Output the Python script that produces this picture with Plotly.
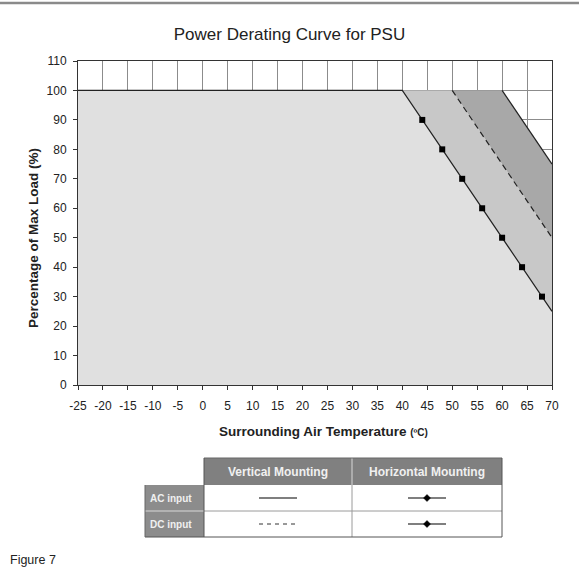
import plotly.graph_objects as go

# ---- data ----
ac_vert_temp = [-25, 40, 70]
ac_vert_load = [100, 100, 25]
dc_vert_temp = [50, 70]
dc_vert_load = [100, 50]
upper_temp = [60, 70]
upper_load = [100, 75]
marker_temp = [44, 48, 52, 56, 60, 64, 68]
marker_load = [90, 80, 70, 60, 50, 40, 30]
x_ticks = list(range(-25, 71, 5))
x_tick_labels = [str(v) for v in x_ticks]  # plain hyphen minus as in the original
y_ticks = list(range(0, 111, 10))
row_labels = ["AC input", "DC input"]
col_labels = ["Vertical Mounting", "Horizontal Mounting"]

W, H = 579, 578
FONT = "Arial, Liberation Sans, sans-serif"
LIGHT, MED, DARK = "#e0e0e0", "#c8c8c8", "#a8a8a8"

fig = go.Figure()

fig.add_trace(go.Scatter(
    x=[ac_vert_temp[0]] + ac_vert_temp + [ac_vert_temp[-1]],
    y=[0] + ac_vert_load + [0],
    fill="toself", fillcolor=LIGHT, mode="lines",
    line=dict(color="rgba(0,0,0,0)", width=0), hoverinfo="skip", showlegend=False))
fig.add_trace(go.Scatter(
    x=ac_vert_temp[1:] + dc_vert_temp[::-1],
    y=ac_vert_load[1:] + dc_vert_load[::-1],
    fill="toself", fillcolor=MED, mode="lines",
    line=dict(color="rgba(0,0,0,0)", width=0), hoverinfo="skip", showlegend=False))
fig.add_trace(go.Scatter(
    x=dc_vert_temp + upper_temp[::-1],
    y=dc_vert_load + upper_load[::-1],
    fill="toself", fillcolor=DARK, mode="lines",
    line=dict(color="rgba(0,0,0,0)", width=0), hoverinfo="skip", showlegend=False))

fig.add_trace(go.Scatter(x=ac_vert_temp, y=ac_vert_load, mode="lines",
                         line=dict(color="#222222", width=1.2), showlegend=False))
fig.add_trace(go.Scatter(x=dc_vert_temp, y=dc_vert_load, mode="lines",
                         line=dict(color="#222222", width=1.2, dash="6px,4px"), showlegend=False))
fig.add_trace(go.Scatter(x=upper_temp, y=upper_load, mode="lines",
                         line=dict(color="#222222", width=1.2), showlegend=False))
fig.add_trace(go.Scatter(x=marker_temp, y=marker_load, mode="markers",
                         marker=dict(symbol="square", size=6, color="black"), showlegend=False))

L, R, T, B = 78, 552, 61, 385

fig.update_layout(
    width=W, height=H,
    margin=dict(l=0, r=0, t=0, b=0, autoexpand=False),
    paper_bgcolor="white", plot_bgcolor="white",
    font=dict(family=FONT, size=12, color="#222222"),
    title=dict(text="Power Derating Curve for PSU", x=0.5, xanchor="center",
               y=1 - 34 / H, yanchor="middle",
               font=dict(family=FONT, size=17, color="#222222")),
    xaxis=dict(domain=[L / W, R / W], range=[-25, 70], tickvals=x_ticks, ticktext=x_tick_labels,
               showgrid=True, gridcolor="#8c8c8c", gridwidth=1, automargin=False,
               showline=True, linecolor="#333333", linewidth=1, mirror=True,
               ticks="outside", ticklen=4, tickcolor="#333333", ticklabelstandoff=6,
               zeroline=False, tickfont=dict(size=12)),
    yaxis=dict(domain=[1 - B / H, 1 - T / H], range=[0, 110], tickvals=y_ticks,
               showgrid=True, gridcolor="#8c8c8c", gridwidth=1, automargin=False,
               showline=True, linecolor="#333333", linewidth=1, mirror=True,
               ticks="outside", ticklen=4, tickcolor="#333333", ticklabelstandoff=4,
               zeroline=False, tickfont=dict(size=12)),
)

shapes = []
shapes.append(dict(type="line", xref="paper", yref="paper", x0=0, x1=1,
                   y0=1 - 3 / H, y1=1 - 3 / H, line=dict(color="#8a8a8a", width=2.5)))

tx0, tx1, tx2, tx3 = 145, 204, 352, 502
ty0, ty1, ty2, ty3 = 458, 485, 511, 537
HDR = "#808080"
LAB = "#8c8c8c"
def rect(x0, y0, x1, y1, fill, lc="rgba(0,0,0,0)", lw=0):
    return dict(type="rect", xref="paper", yref="paper",
                x0=x0 / W, x1=x1 / W, y0=1 - y0 / H, y1=1 - y1 / H,
                fillcolor=fill, line=dict(color=lc, width=lw), layer="above")
def line(x0, y0, x1, y1, color, width=1, dash="solid"):
    return dict(type="line", xref="paper", yref="paper",
                x0=x0 / W, x1=x1 / W, y0=1 - y0 / H, y1=1 - y1 / H,
                line=dict(color=color, width=width, dash=dash), layer="above")

shapes.append(rect(tx1, ty0, tx3, ty1, HDR))
shapes.append(rect(tx0, ty1, tx1, ty3, LAB))
shapes.append(rect(tx1, ty1, tx3, ty3, "white"))
shapes.append(line(tx2, ty0, tx2, ty1, "#d8d8d8", 1))
shapes.append(line(tx2, ty1, tx2, ty3, "#9a9a9a", 1))
shapes.append(line(tx0, ty2, tx1, ty2, "#d8d8d8", 1))
shapes.append(line(tx1, ty2, tx3, ty2, "#9a9a9a", 1))
shapes.append(line(tx1, ty0, tx3, ty0, "#666666", 1))
shapes.append(line(tx3, ty0, tx3, ty3, "#555555", 1))
shapes.append(line(tx0, ty3, tx3, ty3, "#555555", 1))
shapes.append(line(tx0, ty1, tx0, ty3, "#666666", 1))
shapes.append(line(tx1, ty0, tx1, ty3, "#555555", 1))

vc = (tx1 + tx2) / 2
hc = (tx2 + tx3) / 2
r1 = (ty1 + ty2) / 2
r2 = (ty2 + ty3) / 2
shapes.append(line(vc - 19, r1, vc + 19, r1, "black", 1.2))
shapes.append(line(vc - 19, r2, vc + 19, r2, "#333333", 1, "4px,4px"))
for ry in (r1, r2):
    shapes.append(line(hc - 19, ry, hc + 19, ry, "black", 1.2))
    d = 3.5
    shapes.append(dict(type="path", xref="paper", yref="paper",
                       path=f"M {hc/W},{1-(ry-d)/H} L {(hc+d)/W},{1-ry/H} L {hc/W},{1-(ry+d)/H} L {(hc-d)/W},{1-ry/H} Z",
                       fillcolor="black", line=dict(color="black", width=0.5), layer="above"))
fig.update_layout(shapes=shapes)

ann = []
for i, t in enumerate(col_labels):
    cx = vc if i == 0 else hc
    ann.append(dict(x=cx / W, y=1 - ((ty0 + ty1) / 2) / H, xref="paper", yref="paper",
                    text=f"<b>{t}</b>", showarrow=False, xanchor="center", yanchor="middle",
                    font=dict(family=FONT, size=12, color="#f0f0f0")))
for i, t in enumerate(row_labels):
    cy = r1 if i == 0 else r2
    ann.append(dict(x=(tx0 + 3) / W, y=1 - cy / H, xref="paper", yref="paper",
                    text=f"<b>{t}</b>", showarrow=False, xanchor="left", yanchor="middle",
                    font=dict(family=FONT, size=10, color="#f0f0f0")))
ann.append(dict(x=323 / W, y=1 - 431 / H, xref="paper", yref="paper",
                text="<b>Surrounding Air Temperature </b><b><span style='font-size:10px'>(ºC)</span></b>",
                showarrow=False, xanchor="center", yanchor="middle",
                font=dict(family=FONT, size=13.5, color="#222222")))
ann.append(dict(x=33 / W, y=1 - 238 / H, xref="paper", yref="paper",
                text="<b>Percentage of Max Load (%)</b>", textangle=-90,
                showarrow=False, xanchor="center", yanchor="middle",
                font=dict(family=FONT, size=13.5, color="#222222")))
ann.append(dict(x=8 / W, y=1 - 560 / H, xref="paper", yref="paper", text="Figure 7",
                showarrow=False, xanchor="left", yanchor="middle",
                font=dict(family=FONT, size=12.5, color="#222222")))
fig.update_layout(annotations=ann)

fig.write_html("out.html", config={"displayModeBar": False},
               post_script="document.body.style.margin='0';document.body.style.overflow='hidden';")
